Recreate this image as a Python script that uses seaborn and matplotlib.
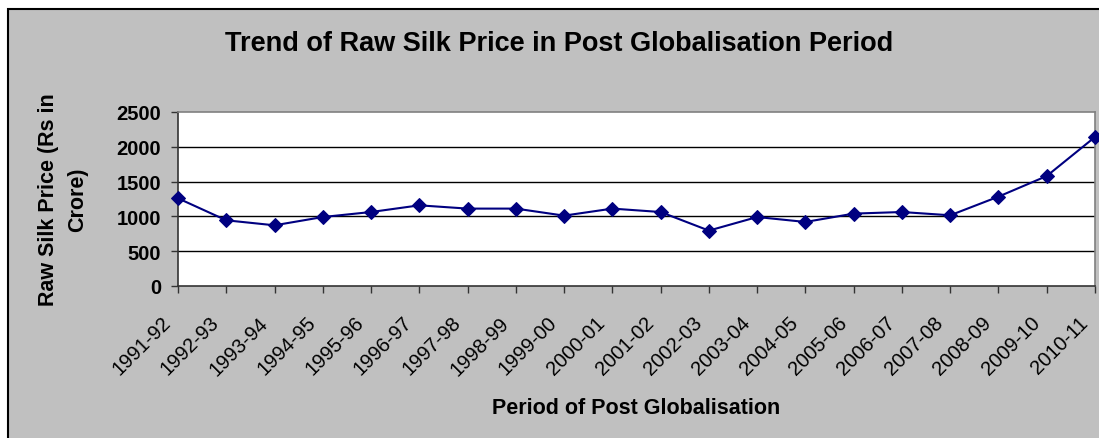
import matplotlib
matplotlib.use("Agg")
import matplotlib.pyplot as plt
from matplotlib.patches import Rectangle
from matplotlib.transforms import ScaledTranslation
import seaborn as sns
import pandas as pd

periods = ["1991-92", "1992-93", "1993-94", "1994-95", "1995-96", "1996-97",
           "1997-98", "1998-99", "1999-00", "2000-01", "2001-02", "2002-03",
           "2003-04", "2004-05", "2005-06", "2006-07", "2007-08", "2008-09",
           "2009-10", "2010-11"]
prices = [1260, 944, 872, 991, 1063, 1159, 1112, 1112, 1011, 1112,
          1063, 796, 991, 920, 1040, 1063, 1016, 1284, 1580, 2141]
y_ticks = [0, 500, 1000, 1500, 2000, 2500]

df = pd.DataFrame({"Period": periods, "Price": prices})

sns.set_theme(style="white")
plt.rcParams["font.family"] = ["Liberation Sans", "DejaVu Sans"]
plt.rcParams["text.color"] = "black"
plt.rcParams["axes.labelcolor"] = "black"
plt.rcParams["xtick.color"] = "black"
plt.rcParams["ytick.color"] = "black"

W, H = 1099, 439
fig = plt.figure(figsize=(W / 100, H / 100), dpi=100, facecolor="white")

# grey chart area with black frame
fig.patches.append(Rectangle((8 / W, -0.05), 1.1, (H - 10) / H + 0.05,
                             transform=fig.transFigure, facecolor="#C0C0C0",
                             edgecolor="black", linewidth=1.5, zorder=-10))

left, right, top, bottom = 178, 1095, 113, 287
ax = fig.add_axes([left / W, (H - bottom) / H, (right - left) / W, (bottom - top) / H])
ax.set_facecolor("white")

sns.lineplot(data=df, x="Period", y="Price", ax=ax, color="#000080",
             marker="D", markersize=7.5, markeredgecolor="#000080",
             linewidth=1.5, sort=False, clip_on=False, zorder=5)

ax.set_xlim(0, len(periods) - 1)
ax.set_ylim(0, 2500)

for v in y_ticks[1:-1]:
    ax.axhline(v, color="black", linewidth=1, zorder=1)

for side in ("left", "bottom"):
    ax.spines[side].set_color("#333333")
    ax.spines[side].set_linewidth(1.2)
for side in ("top", "right"):
    ax.spines[side].set_color("#808080")
    ax.spines[side].set_linewidth(1.2)

ax.tick_params(axis="both", which="both", direction="out", length=5, width=1,
               color="#333333", left=True, bottom=True)
ax.tick_params(axis="y", pad=7)
ax.tick_params(axis="x", pad=19)

ax.set_yticks(y_ticks)
ax.set_yticklabels([str(v) for v in y_ticks], fontweight="bold", fontsize=14.5)
ax.set_xticks(range(len(periods)))
ax.set_xticklabels(periods, rotation=45, ha="right", va="center",
                   rotation_mode="anchor", fontsize=14.5)

# nudge the slanted period labels a little to the left of their ticks
shift = ScaledTranslation(-10 / 100, 0, fig.dpi_scale_trans)
for lab in ax.get_xticklabels():
    lab.set_transform(lab.get_transform() + shift)

ax.set_xlabel("Period of Post Globalisation", fontweight="bold", fontsize=15.5)
ax.xaxis.set_label_coords(0.5, (287 - 398) / 174)
ax.set_ylabel("Raw Silk Price (Rs in\nCrore)", fontweight="bold", fontsize=15.5,
              linespacing=1.5)
ax.yaxis.set_label_coords((88 - 178) / 917, 0.5)

fig.text(559 / W, 1 - 44 / H,
         "Trend of Raw Silk Price in Post Globalisation Period",
         ha="center", va="center", fontweight="bold", fontsize=19.5)

fig.savefig("out.png", dpi=100, facecolor="white")
